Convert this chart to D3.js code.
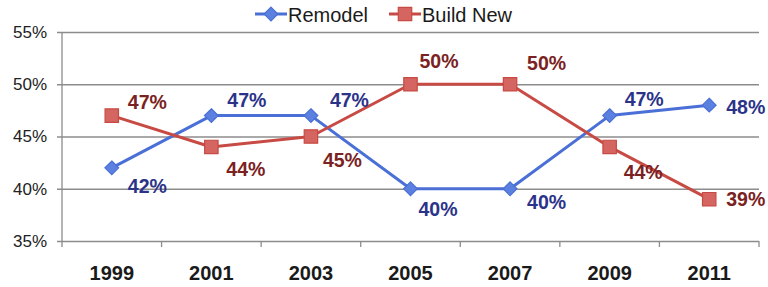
<!DOCTYPE html>
<html>
<head>
<meta charset="utf-8">
<style>
  body { margin: 0; background: #fff; }
  svg { display: block; font-family: Arial, "Liberation Sans", sans-serif; }
</style>
</head>
<body>
<svg width="768" height="287"></svg>
<script src="https://cdn.jsdelivr.net/npm/d3@7"></script>
<script>

var years = ["1999", "2001", "2003", "2005", "2007", "2009", "2011"];
var remodel = [42, 47, 47, 40, 40, 47, 48];
var buildNew = [47, 44, 45, 50, 50, 44, 39];
var yTicks = [35, 40, 45, 50, 55];

// where each value label sits relative to its point (label centre)
var remodelLabelOffset = [[16, 18], [16, -16], [19, -16], [8, 20], [17, 13], [15, -17], [17, 2]];
var buildLabelOffset = [[16, -14], [15, 22], [12, 23], [9, -23], [17, -21], [14, 25], [17, 0]];

var svg = d3.select("svg"),
    margin = {top: 32, right: 9, bottom: 46, left: 62},
    width = +svg.attr("width") - margin.left - margin.right,
    height = +svg.attr("height") - margin.top - margin.bottom,
    g = svg.append("g").attr("transform", "translate(" + margin.left + "," + margin.top + ")");

var x = d3.scaleBand().domain(years).range([0, width]);
var y = d3.scaleLinear().domain([35, 55]).range([height, 0]);
var cx = function(d, i) { return x(years[i]) + x.bandwidth() / 2; };

var gridColor = "#8c8c8c";

// gridlines + y labels
g.append("g")
    .call(d3.axisLeft(y).tickValues(yTicks).tickSize(-width - 5).tickPadding(10).tickFormat(function(d) { return d + "%"; }))
    .attr("transform", "translate(-5,0)")
    .call(function(a) {
      a.select(".domain").remove();
      a.selectAll("line").attr("stroke", gridColor).attr("stroke-width", 1.3);
      a.selectAll("text").attr("font-size", "17px").attr("fill", "#222").attr("font-family", "Arial, 'Liberation Sans', sans-serif");
    });

// left axis line
g.append("line")
    .attr("x1", 0).attr("x2", 0).attr("y1", 0).attr("y2", height + 6)
    .attr("stroke", gridColor).attr("stroke-width", 1.3);

// category ticks at band edges
g.append("g").selectAll("line")
    .data(years.slice(1).concat(["end"]))
    .enter().append("line")
    .attr("x1", function(d) { return d === "end" ? width : x(d); })
    .attr("x2", function(d) { return d === "end" ? width : x(d); })
    .attr("y1", height).attr("y2", height + 6)
    .attr("stroke", gridColor).attr("stroke-width", 1.3);

// x labels
g.append("g")
    .attr("transform", "translate(0," + height + ")")
    .call(d3.axisBottom(x).tickSize(0).tickPadding(25))
    .call(function(a) {
      a.select(".domain").remove();
      a.selectAll("text").attr("font-size", "20px").attr("font-weight", "bold").attr("fill", "#1a1a1a")
        .attr("font-family", "Arial, 'Liberation Sans', sans-serif");
    });

var line = d3.line()
    .x(cx)
    .y(function(d) { return y(d); });

var series = [
  {name: "Remodel", values: remodel, stroke: "#4a6fd6", fill: "#5b80e0", label: "#2b3389", offsets: remodelLabelOffset, marker: d3.symbolDiamond2, size: 120},
  {name: "Build New", values: buildNew, stroke: "#c84a44", fill: "#d46560", label: "#7a2222", offsets: buildLabelOffset, marker: d3.symbolSquare, size: 180}
];

series.forEach(function(s) {
  g.append("path")
      .datum(s.values)
      .attr("fill", "none")
      .attr("stroke", s.stroke)
      .attr("stroke-width", 3)
      .attr("stroke-linejoin", "round")
      .attr("d", line);
});

series.forEach(function(s) {
  g.append("g").selectAll("path")
      .data(s.values)
      .enter().append("path")
      .attr("transform", function(d, i) { return "translate(" + cx(d, i) + "," + y(d) + ")"; })
      .attr("d", d3.symbol().type(s.marker).size(s.size))
      .attr("fill", s.fill)
      .attr("stroke", s.stroke)
      .attr("stroke-width", 1.2);

  g.append("g").selectAll("text")
      .data(s.values)
      .enter().append("text")
      .attr("x", function(d, i) { return cx(d, i) + s.offsets[i][0]; })
      .attr("y", function(d, i) { return y(d) + s.offsets[i][1] + 7; })
      .attr("font-size", "19.5px")
      .attr("font-weight", "bold")
      .attr("fill", s.label)
      .text(function(d) { return d + "%"; });
});

// legend
var legend = svg.append("g").attr("transform", "translate(255,14)");
var lx = [0, 134];
series.forEach(function(s, i) {
  var lg = legend.append("g").attr("transform", "translate(" + lx[i] + ",0)");
  lg.append("line").attr("x1", 0).attr("x2", 32).attr("stroke", s.stroke).attr("stroke-width", 3);
  lg.append("path").attr("transform", "translate(16,0)")
      .attr("d", d3.symbol().type(s.marker).size(s.size))
      .attr("fill", s.fill).attr("stroke", s.stroke).attr("stroke-width", 1.2);
  lg.append("text").attr("x", 33).attr("y", 8)
      .attr("font-size", "20px").attr("fill", "#1a1a1a")
      .text(s.name);
});

</script>
</body>
</html>
